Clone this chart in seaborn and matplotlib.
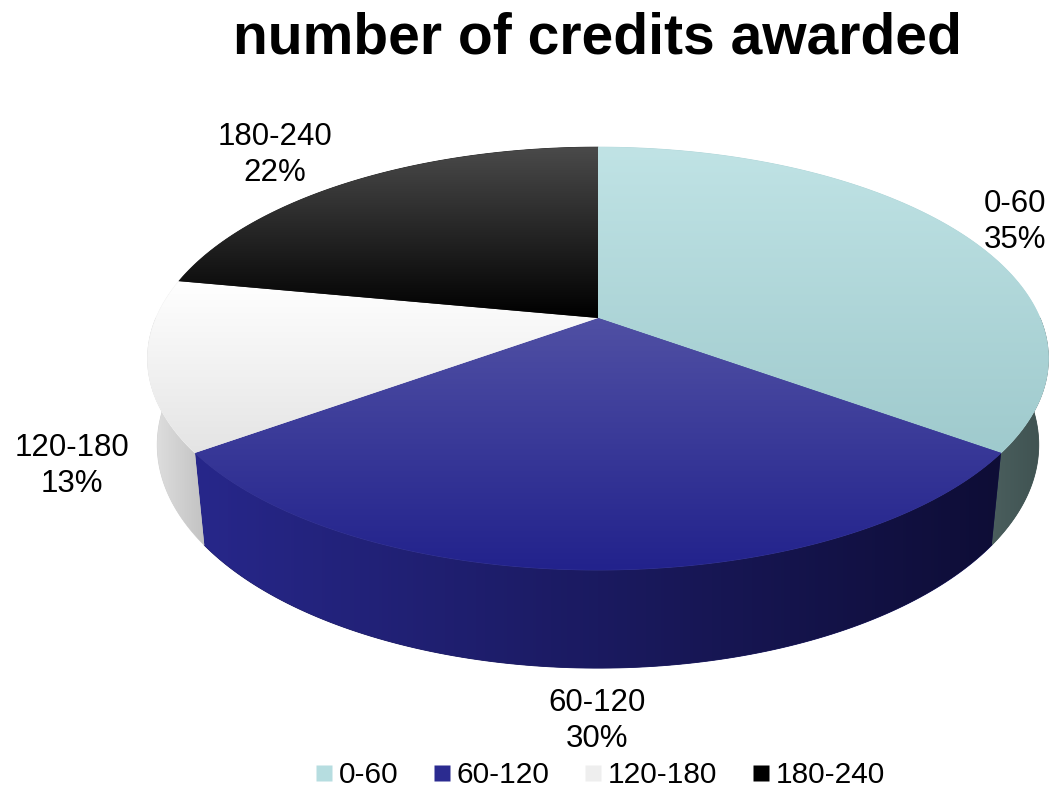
import numpy as np
import matplotlib
matplotlib.use("Agg")
import matplotlib.pyplot as plt
import seaborn as sns
from matplotlib.patches import Polygon
from matplotlib.lines import Line2D
from matplotlib.colors import LinearSegmentedColormap

# ---------------- data ----------------
categories = ["0-60", "60-120", "120-180", "180-240"]
shares = [35, 30, 13, 22]
title = "number of credits awarded"

# ---------------- style ----------------
sns.set_theme(style="white")
plt.rcParams['font.family'] = ['Liberation Sans', 'DejaVu Sans']
plt.rcParams['text.color'] = 'black'

top_colors = [["#c0e3e5", "#9fcacd"],      # teal top (top -> bottom)
              ["#5050a4", "#22228c"],      # blue top
              ["#ffffff", "#e4e4e4"],      # white top
              ["#4a4a4a", "#000000"]]      # black top
side_colors = [["#4a5e5d", "#3e5150"],     # left -> right
               ["#27278a", "#0e0d36"],
               ["#e2e2e2", "#c2c2c2"],
               ["#111111", "#000000"]]
legend_colors = sns.color_palette(["#b6dde0", "#2b2b90", "#eeeeee", "#000000"])
label_xy = [(1015, 222), (597, 721), (72, 466), (275, 155)]

W, H = 1052, 795
fig = plt.figure(figsize=(W / 100, H / 100), dpi=100)
ax = fig.add_axes([0, 0, 1, 1])

# perspective camera
alpha = np.deg2rad(26.9)
sa, ca = np.sin(alpha), np.cos(alpha)
dist, focal, depth = 4.65, 2093.0, 0.216
xscale = 0.982
cx, cy = 598.0, 318.0


def proj(x, y, z):
    yc = y * sa + z * ca
    zc = y * ca + dist - z * sa
    return cx + xscale * focal * x / zc, cy - focal * yc / zc


def arc(t0, t1, z, n=120):
    t = np.deg2rad(np.linspace(t0, t1, n))
    X, Y = proj(np.cos(t), np.sin(t), z)
    return np.column_stack([X, Y])


def grad_fill(xy, colors, direction='v', zorder=1):
    cmap = LinearSegmentedColormap.from_list('g', colors)
    poly = Polygon(xy, closed=True, facecolor=cmap(0.5), edgecolor=cmap(0.5),
                   linewidth=0.6, zorder=zorder)
    ax.add_patch(poly)
    x0, y0 = xy.min(0)
    x1, y1 = xy.max(0)
    if direction == 'v':
        arr = np.linspace(0, 1, 256).reshape(-1, 1)
    else:
        arr = np.linspace(0, 1, 256).reshape(1, -1)
    im = ax.imshow(arr, cmap=cmap, extent=(x0, x1, y1, y0), origin='upper',
                   aspect='auto', zorder=zorder + 0.1, interpolation='bilinear')
    im.set_clip_path(poly)


total = float(sum(shares))
angles = [90.0]
for v in shares:
    angles.append(angles[-1] - 360.0 * v / total)

# sides
for i in range(len(shares)):
    t0, t1 = angles[i], angles[i + 1]
    hi, lo = min(t0, 0.0), max(t1, -180.0)
    if lo < hi:
        top = arc(hi, lo, 0.0)
        bot = arc(lo, hi, -depth)
        grad_fill(np.vstack([top, bot]), side_colors[i], direction='h', zorder=1)

# top faces
hub = np.array([proj(0.0, 0.0, 0.0)])
for i in range(len(shares)):
    t0, t1 = angles[i], angles[i + 1]
    grad_fill(np.vstack([hub, arc(t0, t1, 0.0)]), top_colors[i], direction='v', zorder=3)

ax.set_xlim(0, W)
ax.set_ylim(H, 0)
ax.axis('off')

# labels
for i, cat in enumerate(categories):
    x, y = label_xy[i]
    ax.text(x, y, f"{cat}\n{shares[i]}%", ha='center', va='center', fontsize=22.5,
            linespacing=1.22, color='black', zorder=5)

ax.text(597, 39, title, ha='center', va='center', fontsize=41, fontweight='bold',
        color='black', zorder=5)

handles = [Line2D([0], [0], marker='s', linestyle='none', markersize=11,
                  markerfacecolor=legend_colors[i], markeredgecolor='none')
           for i in range(len(categories))]
leg = ax.legend(handles, categories, loc='center', bbox_to_anchor=(600 / W, 1 - 775 / H),
                ncol=4, frameon=False, fontsize=21.5, handlelength=0.6, handletextpad=0.2,
                columnspacing=1.15, borderaxespad=0, borderpad=0)
for t in leg.get_texts():
    t.set_color('black')

fig.savefig("out.png", dpi=100)
